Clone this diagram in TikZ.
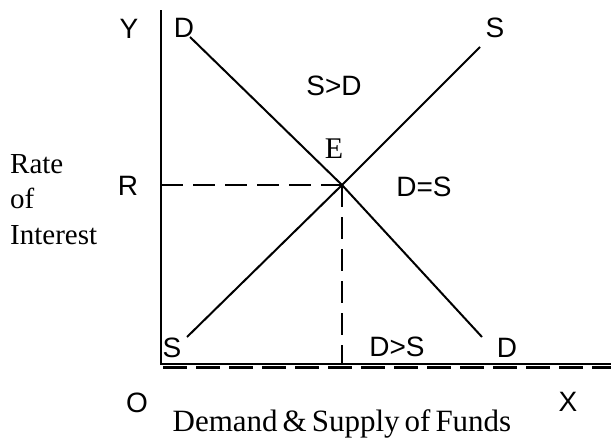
\documentclass[tikz,border=0pt]{standalone}
\usepackage{fontspec}
\setmainfont{Liberation Serif}
\setsansfont{Liberation Sans}
\usetikzlibrary{positioning,calc}
\newcommand{\titlefont}{\fontsize{31}{35}\selectfont\rmfamily\spaceskip=5pt\relax}
\newcommand{\sidefont}{\fontsize{29}{32.5}\selectfont\rmfamily}

\begin{document}
\begin{tikzpicture}[
  x=1pt, y=-1pt,
  lbl/.style={font=\fontsize{28}{30}\selectfont\sffamily, inner sep=0pt},
  slbl/.style={font=\titlefont, inner sep=0pt},
  curve/.style={draw, line width=2pt},
  axis/.style={draw, line width=2pt},
  guide/.style={draw, line width=2pt, dash pattern=on 22pt off 10pt}
]
\useasboundingbox (0,0) rectangle (611,439);
% axes
\coordinate (O)    at (161,364);
\coordinate (Ytop) at (161,10);
\coordinate (Xend) at (611,364);
\coordinate (E)    at (342,185);
\coordinate (R)    at (161,185);
\coordinate (Ebot) at (342,364);
\draw[axis] (Ytop) -- (O) -- (Xend);
\draw[line width=3pt, dash pattern=on 24pt off 9pt] ($(O)+(2,3)$) -- ($(Xend)+(0,3)$);
% demand and supply
\coordinate (D1) at (190,37);
\coordinate (D2) at (482,337);
\coordinate (S1) at (187,337);
\coordinate (S2) at (480,47);
\draw[curve] (D1) -- (E) -- (D2);
\draw[curve] (S1) -- (E) -- (S2);
\draw[guide] (R) -- (E);
\draw[guide] (E) -- (Ebot);
% labels
\node[lbl] (ylab)  at (129,29)  {Y};
\node[lbl] (dtop)  at (184,28)  {D};
\node[lbl] (stop)  at (495,28)  {S};
\node[lbl] (sgd)   at (334,86)  {S>D};
\node[font=\fontsize{30}{32}\selectfont\rmfamily, inner sep=0pt, anchor=base] (elab) at (334,158) {E};
\node[lbl] (rlab)  at (128,186) {R};
\node[lbl] (deq)   at (424,187) {D=S};
\node[lbl] (sbot)  at (172,348) {S};
\node[lbl] (dgs)   at (397,347) {D>S};
\node[lbl] (dbot)  at (507,348) {D};
\node[lbl] (olab)  at (137,403) {O};
\node[lbl] (xlab)  at (568,402) {X};
\node[slbl, anchor=base] (xtitle) at (342,431) {Demand \& Supply of Funds};
\node[font=\sidefont, inner sep=0pt, align=left, anchor=base west] (ytitle) at (10,244) {Rate\\[3pt]of\\[3pt]Interest};
\end{tikzpicture}
\end{document}
